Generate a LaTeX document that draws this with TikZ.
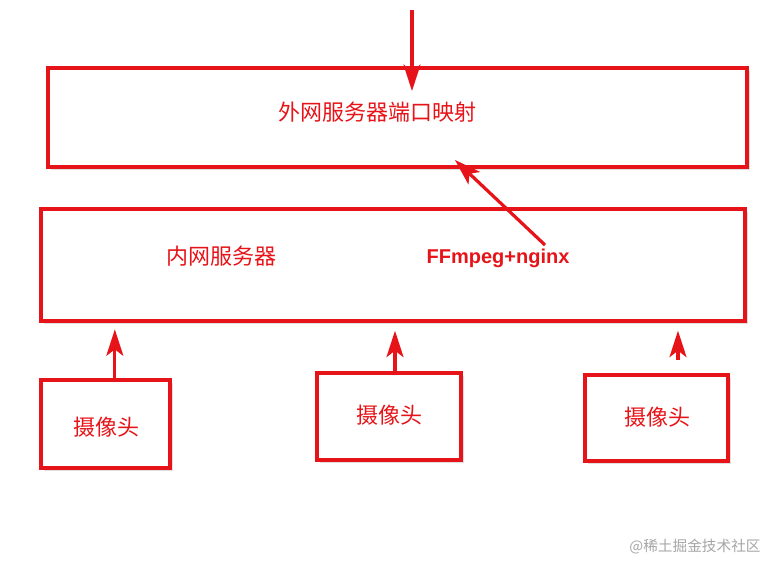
\documentclass[tikz,border=0pt]{standalone}
\usepackage{fontspec}
\setmainfont{Noto Sans CJK SC}
\newfontfamily\latinbold{Liberation Sans}
\usetikzlibrary{arrows.meta,shadows}
\definecolor{boxred}{RGB}{230,20,25}
\tikzset{
	redbox/.style={draw=boxred, line width=2.6pt, fill=white, drop shadow={shadow xshift=2pt, shadow yshift=-2pt, opacity=0.25}},
	redlabel/.style={text=boxred, font=\fontsize{16.5}{18}\selectfont},
	redarrow/.style={draw=boxred, line width=2.4pt, -{Stealth[length=20pt, width=13pt, inset=5pt, line width=0pt, fill=boxred]}},
}
\begin{document}
\begin{tikzpicture}[x=0.75pt, y=-0.75pt]
	\useasboundingbox (0,0) rectangle (772,562);
	\node[redbox, minimum width=699*0.75pt, minimum height=99*0.75pt] (outer) at (397.5,117.5) {};
	\node[redbox, minimum width=704*0.75pt, minimum height=112*0.75pt] (inner) at (393,265) {};
	\node[redbox, minimum width=129*0.75pt, minimum height=88*0.75pt] (cam1) at (105.5,424) {};
	\node[redbox, minimum width=144*0.75pt, minimum height=87*0.75pt] (cam2) at (389,416.5) {};
	\node[redbox, minimum width=143*0.75pt, minimum height=86*0.75pt] (cam3) at (656.5,418) {};
	
	\node[redlabel] (portmap) at (377,112) {外网服务器端口映射};
	\node[redlabel] (lanserver) at (221,256) {内网服务器};
	\node[redlabel, font=\latinbold\bfseries\fontsize{15}{17}\selectfont] (ffmpeg) at (498,258) {FFmpeg+nginx};
	\node[redlabel] (cam1label) at (106,427) {摄像头};
	\node[redlabel] (cam2label) at (389,415) {摄像头};
	\node[redlabel] (cam3label) at (657,417) {摄像头};
	\node[text=gray!70, font=\fontsize{11}{13}\selectfont] (mark) at (695,547) {@稀土掘金技术社区};
	
	\coordinate (incoming) at (412,10);
	\coordinate (incomingend) at (412,91);
	\coordinate (ffmpegstart) at (545,245);
	\coordinate (portend) at (455,160);
	\coordinate (cam3top) at (678,360);
	
	\draw[redarrow] (incoming) -- (incomingend);
	\draw[redarrow] (ffmpegstart) -- (portend);
	\draw[redarrow, shorten >=5pt] ([xshift=7pt]cam1.north) -- ([xshift=7pt]cam1.north |- inner.south);
	\draw[redarrow, shorten >=6pt] ([xshift=4.5pt]cam2.north) -- ([xshift=4.5pt]cam2.north |- inner.south);
	\draw[redarrow, shorten >=6pt] (cam3top) -- (cam3top |- inner.south);
\end{tikzpicture}
\end{document}
